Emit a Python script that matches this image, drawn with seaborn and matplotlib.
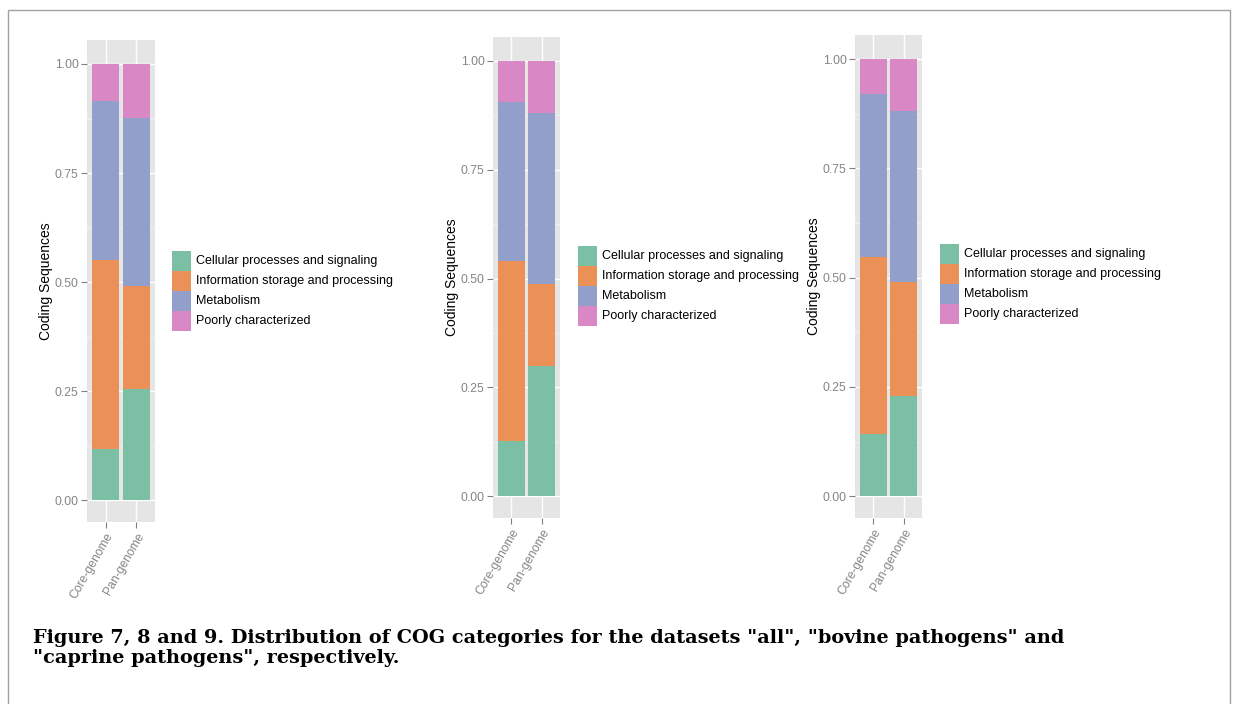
import numpy as np
import pandas as pd
import matplotlib
matplotlib.use("Agg")
import matplotlib.pyplot as plt
import seaborn as sns
from matplotlib.patches import Rectangle

# ---- data (proportions of coding sequences per COG category) ----
genomes = ["Core-genome", "Pan-genome"]
categories = ["Cellular processes and signaling", "Information storage and processing",
              "Metabolism", "Poorly characterized"]
# each list: [Core-genome, Pan-genome]
all_cellular = [0.118, 0.255]
all_information = [0.432, 0.236]
all_metabolism = [0.366, 0.386]
all_poorly = [0.084, 0.123]

bovine_cellular = [0.126, 0.299]
bovine_information = [0.414, 0.188]
bovine_metabolism = [0.366, 0.393]
bovine_poorly = [0.094, 0.120]

caprine_cellular = [0.142, 0.228]
caprine_information = [0.406, 0.263]
caprine_metabolism = [0.372, 0.390]
caprine_poorly = [0.080, 0.119]

yticks = [0.0, 0.25, 0.5, 0.75, 1.0]
ytick_labels = ["0.00", "0.25", "0.50", "0.75", "1.00"]
caption_lines = ['Figure 7, 8 and 9. Distribution of COG categories for the datasets "all", "bovine pathogens" and',
                 '"caprine pathogens", respectively.']

colors = ["#7bbfa5", "#eb9056", "#929fcb", "#da88c5"]

plt.rcParams["font.family"] = ["Liberation Sans", "DejaVu Sans"]

fig = plt.figure(figsize=(12.33, 7.04), dpi=100)
W, H = 1233, 704

def fx(px):
    return px / W

def fy(py):
    return 1 - py / H

panels = [
    dict(data=[all_cellular, all_information, all_metabolism, all_poorly],
         box=(87, 40, 155, 522), leg=(172, 251)),
    dict(data=[bovine_cellular, bovine_information, bovine_metabolism, bovine_poorly],
         box=(493, 37, 560, 518), leg=(578, 246)),
    dict(data=[caprine_cellular, caprine_information, caprine_metabolism, caprine_poorly],
         box=(855, 35, 922, 518), leg=(940, 244)),
]

for p in panels:
    x0, y0, x1, y1 = p["box"]
    ax = fig.add_axes([fx(x0), fy(y1), fx(x1 - x0), (y1 - y0) / H])
    ax.set_facecolor("#e5e5e5")
    vals = np.array(p["data"])
    cum = np.cumsum(vals, axis=0)
    for i in range(len(categories) - 1, -1, -1):
        df = pd.DataFrame({"genome": genomes, "value": cum[i]})
        sns.barplot(data=df, x="genome", y="value", color=colors[i], saturation=1,
                    width=0.9, linewidth=0, ax=ax, zorder=3)
    ax.set_xlim(-0.6, 1.6)
    ax.set_ylim(-0.05, 1.055)
    ax.set_yticks(yticks)
    ax.set_yticklabels(ytick_labels)
    ax.set_yticks([0.125, 0.375, 0.625, 0.875], minor=True)
    ax.grid(True, which="major", color="white", linewidth=1.0, zorder=0)
    ax.grid(True, which="minor", axis="y", color="#f2f2f2", linewidth=0.6, zorder=0)
    ax.set_axisbelow(True)
    for s in ax.spines.values():
        s.set_visible(False)
    ax.tick_params(axis="both", which="major", colors="#808080", length=4, width=0.8,
                   labelsize=8.7, labelcolor="#858585", pad=2)
    ax.tick_params(axis="y", which="minor", length=0)
    for lab in ax.get_xticklabels():
        lab.set_rotation(60)
        lab.set_ha("right")
        lab.set_rotation_mode("anchor")
    ax.set_xlabel("")
    ax.set_ylabel("Coding Sequences", fontsize=10, color="black", labelpad=1)

    # legend (key squares + labels)
    lx, ly = p["leg"]
    for i, (cat, c) in enumerate(zip(categories, colors)):
        fig.patches.append(Rectangle((fx(lx), fy(ly + 20 * (i + 1))), fx(19), 20 / H,
                                     transform=fig.transFigure, facecolor=c,
                                     edgecolor="none"))
        fig.text(fx(lx + 24), fy(ly + 20 * i + 10), cat, fontsize=9, color="black",
                 ha="left", va="center")

fig.text(fx(33), fy(643), caption_lines[0], fontsize=13.9, fontweight="bold",
         family=["DejaVu Serif"], ha="left", va="baseline")
fig.text(fx(33), fy(663), caption_lines[1], fontsize=13.9, fontweight="bold",
         family=["DejaVu Serif"], ha="left", va="baseline")

fig.patches.append(Rectangle((fx(8), -0.05), fx(1222), fy(10) + 0.05,
                             transform=fig.transFigure, fill=False,
                             edgecolor="#a0a0a0", linewidth=1.0))

fig.savefig("out.png", dpi=100)
